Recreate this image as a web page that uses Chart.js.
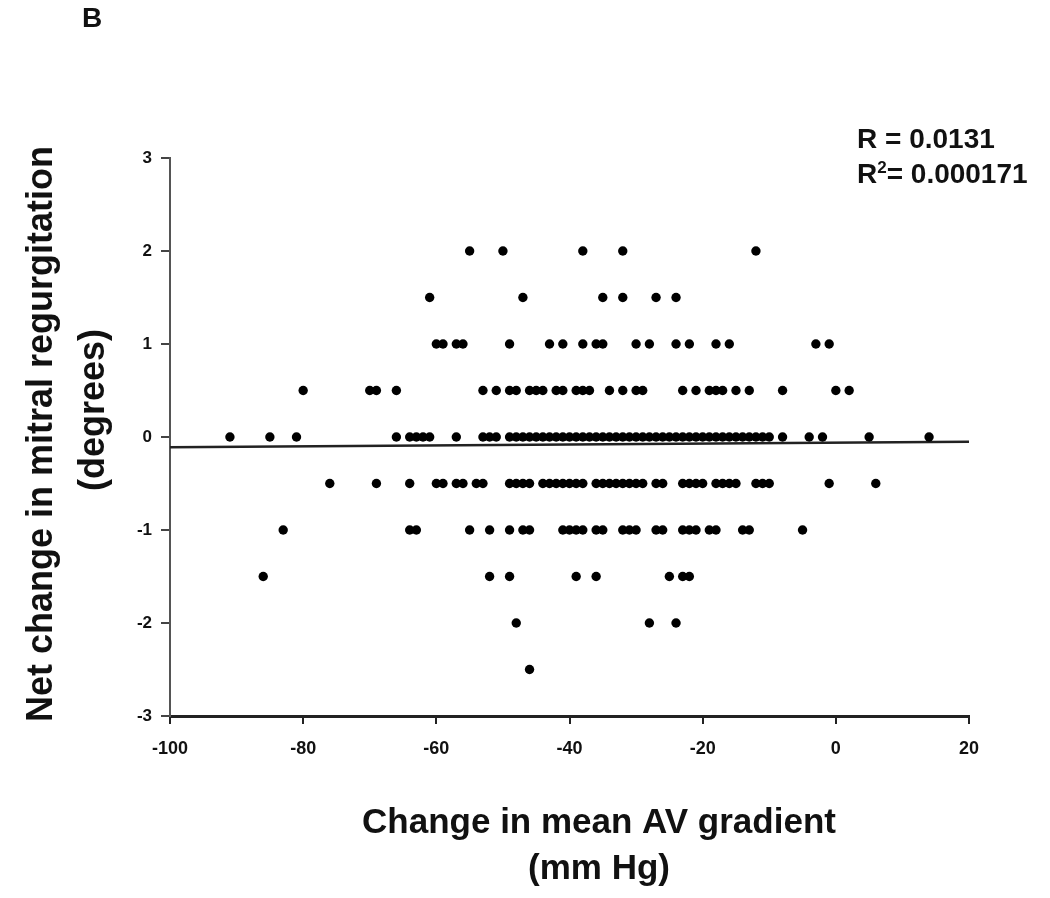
<!DOCTYPE html>
<html>
<head>
<meta charset="utf-8">
<title>Change in mean AV gradient vs mitral regurgitation</title>
<script src="https://cdn.jsdelivr.net/npm/chart.js@4.4.1/dist/chart.umd.min.js"></script>
<style>
  html, body { margin: 0; padding: 0; background: #fff; }
  #wrap { position: relative; width: 1050px; height: 898px; }
</style>
</head>
<body>
<div id="wrap"><canvas id="scatter"></canvas></div>
<script>
// --- данные: изменение градиента (мм рт. ст.) по уровням изменения МР ---
const gradAtPlus2 = [-55, -50, -38, -32, -12];
const gradAtPlus15 = [-61, -47, -35, -32, -27, -24];
const gradAtPlus1 = [-60, -59, -57, -56, -49, -43, -41, -38, -36, -35, -30, -28, -24, -22, -18, -16, -3, -1];
const gradAtPlus05 = [-80, -70, -69, -66, -53, -51, -49, -48, -46, -45, -44, -42, -41, -39, -38, -37,
  -34, -32, -30, -29, -23, -21, -19, -18, -17, -15, -13, -8, 0, 2];
const gradAtZero = [-91, -85, -81, -66, -64, -63, -62, -61, -57, -53, -52, -51,
  -49, -48, -47, -46, -45, -44, -43, -42, -41, -40, -39, -38, -37, -36, -35, -34, -33, -32,
  -31, -30, -29, -28, -27, -26, -25, -24, -23, -22, -21, -20, -19, -18, -17, -16, -15, -14,
  -13, -12, -11, -10, -8, -4, -2, 5, 14];
const gradAtMinus05 = [-76, -69, -64, -60, -59, -57, -56, -54, -53, -49, -48, -47, -46,
  -44, -43, -42, -41, -40, -39, -38, -36, -35, -34, -33, -32, -31, -30, -29, -27, -26,
  -23, -22, -21, -20, -18, -17, -16, -15, -12, -11, -10, -1, 6];
const gradAtMinus1 = [-83, -64, -63, -55, -52, -49, -47, -46, -41, -40, -39, -38, -36, -35,
  -32, -31, -30, -27, -26, -23, -22, -21, -19, -18, -14, -13, -5];
const gradAtMinus15 = [-86, -52, -49, -39, -36, -25, -23, -22];
const gradAtMinus2 = [-48, -28, -24];
const gradAtMinus25 = [-46];

const mrLevels = [2, 1.5, 1, 0.5, 0, -0.5, -1, -1.5, -2, -2.5];
const gradRows = [gradAtPlus2, gradAtPlus15, gradAtPlus1, gradAtPlus05, gradAtZero,
  gradAtMinus05, gradAtMinus1, gradAtMinus15, gradAtMinus2, gradAtMinus25];

// линия регрессии (концы на краях оси X)
const fitX = [-100, 20];
const fitY = [-0.11, -0.05];

const xTicks = [-100, -80, -60, -40, -20, 0, 20];
const yTicks = [-3, -2, -1, 0, 1, 2, 3];

const FONT = '"Liberation Sans", Arial, sans-serif';

const points = [];
gradRows.forEach((row, i) => {
  row.forEach(g => points.push({ x: g, y: mrLevels[i] }));
});
const fitLine = fitX.map((x, i) => ({ x: x, y: fitY[i] }));

// подписи осей и аннотации рисуем сами
const labelsPlugin = {
  id: 'labels',
  afterDraw(chart) {
    const ctx = chart.ctx;
    ctx.save();
    ctx.fillStyle = '#111';
    ctx.textBaseline = 'alphabetic';

    ctx.font = 'bold 28px ' + FONT;
    ctx.textAlign = 'left';
    ctx.fillText('B', 82, 27);

    // R и R²
    ctx.font = 'bold 28px ' + FONT;
    ctx.fillText('R = 0.0131', 857, 148);
    ctx.fillText('R', 857, 183);
    const w = ctx.measureText('R').width;
    ctx.font = 'bold 17px ' + FONT;
    ctx.fillText('2', 857 + w, 173);
    const w2 = ctx.measureText('2').width;
    ctx.font = 'bold 28px ' + FONT;
    ctx.fillText('= 0.000171', 857 + w + w2, 183);

    // заголовок оси X
    ctx.textAlign = 'center';
    ctx.font = 'bold 35px ' + FONT;
    ctx.fillText('Change in mean AV gradient', 599, 833);
    ctx.fillText('(mm Hg)', 599, 879);

    // заголовок оси Y
    ctx.font = 'bold 36px ' + FONT;
    ctx.translate(52, 434);
    ctx.rotate(-Math.PI / 2);
    ctx.fillText('Net change in mitral regurgitation', 0, 0);
    ctx.fillText('(degrees)', 24, 52);
    ctx.restore();
  }
};

const ctx = document.getElementById('scatter').getContext('2d');
new Chart(ctx, {
  type: 'scatter',
  data: {
    datasets: [
      {
        label: 'Patients',
        data: points,
        pointRadius: 4.7,
        pointBackgroundColor: '#000',
        pointBorderWidth: 0,
        order: 1
      },
      {
        type: 'line',
        label: 'Fit',
        data: fitLine,
        borderColor: '#222',
        borderWidth: 2.5,
        pointRadius: 0,
        fill: false,
        order: 2
      }
    ]
  },
  options: {
    responsive: true,
    maintainAspectRatio: false,
    animation: false,
    layout: { padding: { left: 0, right: 81, top: 158, bottom: 0 } },
    plugins: {
      legend: { display: false },
      tooltip: { enabled: false }
    },
    scales: {
      x: {
        type: 'linear',
        min: -100,
        max: 20,
        afterBuildTicks: s => { s.ticks = xTicks.map(v => ({ value: v })); },
        afterFit: s => { s.height = 182; },
        grid: { display: true, drawOnChartArea: false, drawTicks: true, tickLength: 8, color: '#222', lineWidth: 2 },
        border: { display: true, color: '#222', width: 3 },
        ticks: { color: '#111', padding: 14, font: { family: FONT, size: 18, weight: 'bold' } }
      },
      y: {
        type: 'linear',
        min: -3,
        max: 3,
        afterBuildTicks: s => { s.ticks = yTicks.map(v => ({ value: v })); },
        afterFit: s => { s.width = 170; },
        grid: { display: true, drawOnChartArea: false, drawTicks: true, tickLength: 9, color: '#444', lineWidth: 2 },
        border: { display: true, color: '#555', width: 2 },
        ticks: { color: '#111', padding: 9, font: { family: FONT, size: 17, weight: 'bold' } }
      }
    }
  },
  plugins: [labelsPlugin]
});
</script>
</body>
</html>
